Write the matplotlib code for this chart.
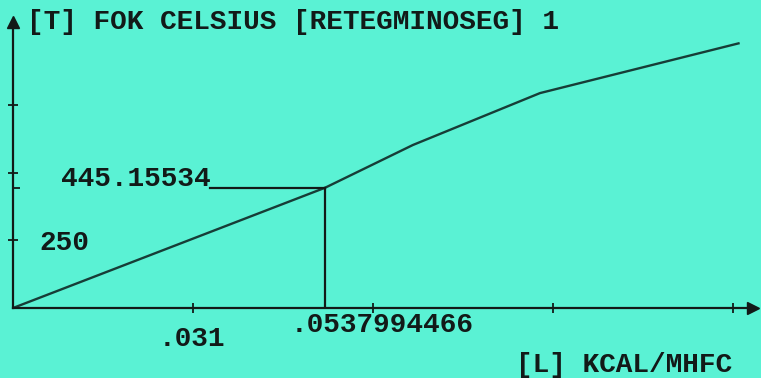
import matplotlib
matplotlib.use("Agg")
import matplotlib.pyplot as plt
from matplotlib.ticker import FixedLocator, NullFormatter

# ---- data ----
curve_x = [0.0, 0.0537994466, 0.0689, 0.0908, 0.1252]
curve_y = [0.0, 445.15534, 603.0, 795.0, 980.0]
marker_x = 0.0537994466
marker_y = 445.15534
x_ticks = [0.031, 0.062, 0.093, 0.124]
y_ticks = [250, 500, 750]
x_tick_label = ".031"
x_tick_value = 0.031
y_tick_label = "250"
y_tick_value = 250
marker_x_label = ".0537994466"
marker_y_label = "445.15534"
title_text = "[T] FOK CELSIUS [RETEGMINOSEG] 1"
xlabel_text = "[L] KCAL/MHFC"

BG = "#5AF2D4"
INK = "#121a18"
LINE = "#173d37"
FONT = dict(family=["Liberation Mono", "DejaVu Sans Mono"], weight="bold", size=20, color=INK)

W, H = 761, 378
fig = plt.figure(figsize=(W / 100, H / 100), dpi=100)
fig.patch.set_facecolor(BG)

x0, y0, x1, y1 = 13, 308, 753, 22
ax = fig.add_axes([x0 / W, 1 - y0 / H, (x1 - x0) / W, (y0 - y1) / H])
ax.set_facecolor(BG)
ax.set_xlim(0, 0.1275)
ax.set_ylim(0, 1058)

for s in ("top", "right"):
    ax.spines[s].set_visible(False)
for s in ("left", "bottom"):
    ax.spines[s].set_color(INK)
    ax.spines[s].set_linewidth(1.6)

ax.xaxis.set_major_locator(FixedLocator(x_ticks))
ax.yaxis.set_major_locator(FixedLocator(y_ticks))
ax.yaxis.set_minor_locator(FixedLocator([marker_y]))
ax.xaxis.set_major_formatter(NullFormatter())
ax.yaxis.set_major_formatter(NullFormatter())
ax.yaxis.set_minor_formatter(NullFormatter())
ax.tick_params(axis="both", which="major", direction="inout", length=7, width=1.3, color=INK)
ax.tick_params(axis="y", which="minor", direction="in", length=5, width=1.3, color=INK)

# axis arrows
ax.plot(1, 0, ">", color=INK, markersize=9, transform=ax.transAxes, clip_on=False)
ax.plot(0, 1, "^", color=INK, markersize=9, transform=ax.transAxes, clip_on=False)

# curve
ax.plot(curve_x, curve_y, color=LINE, linewidth=1.7, solid_capstyle="butt")

# marker lines
ax.plot([marker_x, marker_x], [0, marker_y], color=INK, linewidth=1.6)
ax.plot([0.034, marker_x], [marker_y, marker_y], color=INK, linewidth=1.6)

# labels
ax.annotate(marker_y_label, xy=(0.034, marker_y), xytext=(0, 6), textcoords="offset points",
            ha="right", va="center", **FONT)
ax.annotate(y_tick_label, xy=(0, y_tick_value), xytext=(19, -2), textcoords="offset points",
            ha="left", va="center", **FONT)
ax.annotate(x_tick_label, xy=(x_tick_value, 0), xytext=(-1, -22), textcoords="offset points",
            ha="center", va="center", **FONT)
ax.annotate(marker_x_label, xy=(marker_x, 0), xytext=(-25, -12), textcoords="offset points",
            ha="left", va="center", **FONT)

fig.text(27 / W, 1 - 22 / H, title_text, ha="left", va="center", **FONT)
fig.text(732 / W, 1 - 365 / H, xlabel_text, ha="right", va="center", **FONT)

fig.savefig("out.png", dpi=100, facecolor=BG)
